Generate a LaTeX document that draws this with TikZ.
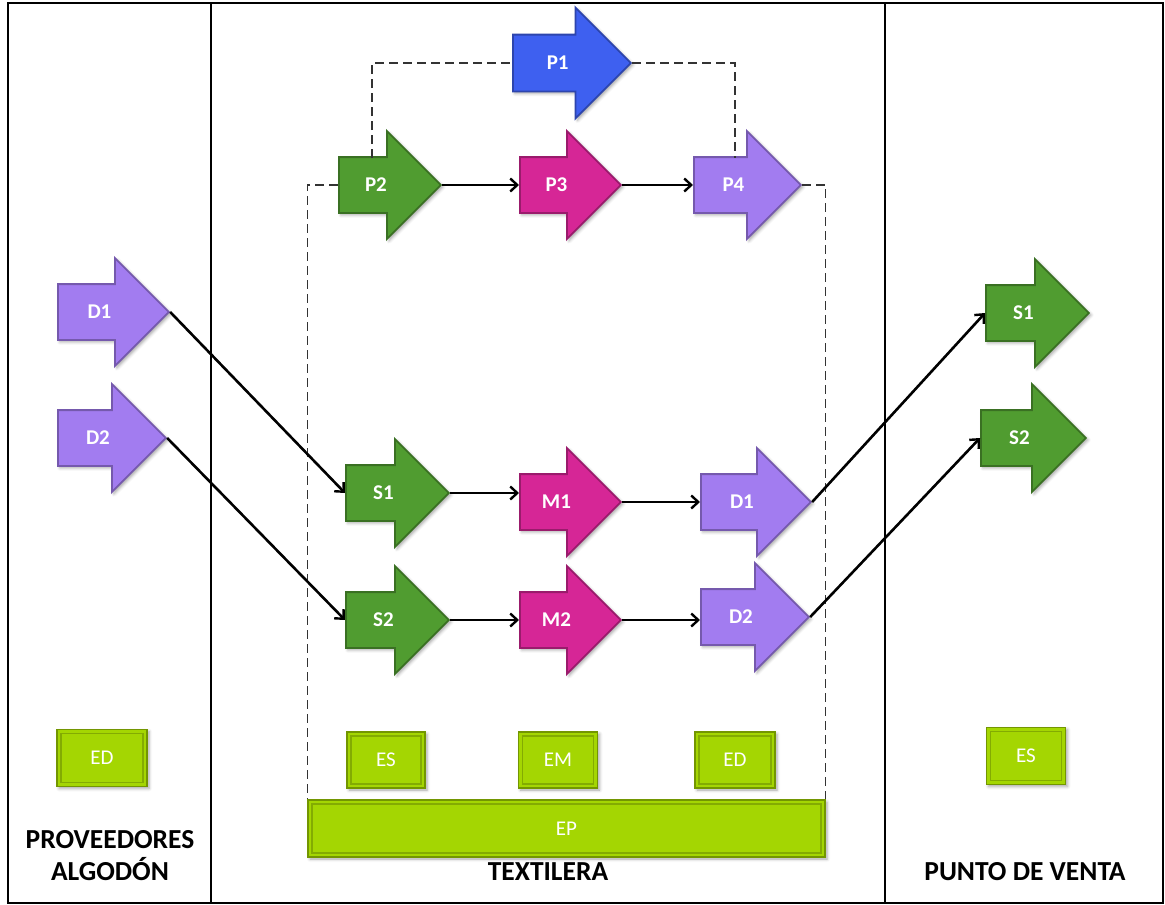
\documentclass[tikz,border=0pt]{standalone}
\usepackage{fontspec}
\setmainfont{Carlito}
\usetikzlibrary{shapes.arrows,arrows.meta,shadows.blur}

\definecolor{grn}{RGB}{80,156,48}
\definecolor{mag}{RGB}{214,38,150}
\definecolor{pur}{RGB}{162,124,240}
\definecolor{blu}{RGB}{62,96,240}
\definecolor{lim}{RGB}{164,214,2}

\tikzset{
  shade/.style={blur shadow={shadow xshift=2pt,shadow yshift=-2pt,shadow blur radius=3pt,shadow opacity=35}},
  blk/.style={single arrow, shape border rotate=0, anchor=tail,
    single arrow head extend=26pt, inner xsep=0pt, inner ysep=20.5pt,
    text height=13pt, text depth=0pt,
    fill=#1, draw=#1!72!black, line width=1.8pt, shade,
    text=white, font=\bfseries\fontsize{21}{21}\selectfont},
  ebox/.style={rectangle, fill=lim, draw=lim!70!black, line width=1.4pt, shade,
    text=white, font=\fontsize{21}{21}\selectfont,
    path picture={\draw[lim!80!black, line width=1.4pt]
      ([shift={(4pt,4pt)}]path picture bounding box.south west) rectangle
      ([shift={(-4pt,-4pt)}]path picture bounding box.north east);}},
  ttl/.style={font=\bfseries\fontsize{27.5}{32}\selectfont, align=center, text=black},
  con/.style={line width=2.6pt, -{Straight Barb[length=7pt,width=13pt,line width=2.4pt]}},
  dsh/.style={line width=1.4pt, black!80, dash pattern=on 9pt off 5pt},
}

\begin{document}
\begin{tikzpicture}[x=1pt,y=-1pt]
\useasboundingbox (0,0) rectangle (1165,905);

% frame and column dividers
\draw[line width=1.6pt] (8,3) rectangle (1163,903);
\draw[line width=1.4pt] (211,3) -- (211,903);
\draw[line width=1.4pt] (885,3) -- (885,903);

% stock boxes
\node[ebox, minimum width=90pt, minimum height=57pt] (EDa) at (102,758) {ED};
\node[ebox, minimum width=78pt, minimum height=56pt] (ES) at (386,760) {ES};
\node[ebox, minimum width=79pt, minimum height=56pt] (EM) at (558,760) {EM};
\node[ebox, minimum width=80pt, minimum height=56pt] (EDb) at (735,760) {ED};
\node[ebox, minimum width=79pt, minimum height=57pt] (ESb) at (1026,756) {ES};
\node[ebox, minimum width=517pt, minimum height=57pt] (EP) at (566.5,828.5) {EP};

% process arrows
\node[blk=blu, minimum height=118pt, inner ysep=21pt, single arrow head extend=27pt] (P1) at (512,63) {P1};
\node[blk=grn, minimum height=102pt] (P2) at (338,185) {P2};
\node[blk=mag, minimum height=101pt] (P3) at (519,185) {P3};
\node[blk=pur, minimum height=107pt] (P4) at (693,185) {P4};

% dashed links
\draw[dsh] ([xshift=34pt,yshift=27pt]P2.tail) |- (P1.tail);
\draw[dsh] (P1.tip) -| ([xshift=42pt,yshift=27pt]P4.tail);
\draw[dsh] (P2.tail) -| (EP.north west);
\draw[dsh] (P4.tip) -| (EP.north east);

% suppliers
\node[blk=pur, minimum height=111pt] (D1a) at (57,312) {D1};
\node[blk=pur, minimum height=108pt] (D2a) at (57,438) {D2};

% textile plant
\node[blk=grn, minimum height=103pt] (S1) at (345,493) {S1};
\node[blk=mag, minimum height=101pt] (M1) at (519,502) {M1};
\node[blk=pur, minimum height=110pt] (D1) at (700,502) {D1};
\node[blk=grn, minimum height=103pt] (S2) at (345,620) {S2};
\node[blk=mag, minimum height=101pt] (M2) at (519,620) {M2};
\node[blk=pur, minimum height=108pt] (D2) at (700,617) {D2};

% point of sale
\node[blk=grn, minimum height=103pt] (S1b) at (985,313) {S1};
\node[blk=grn, minimum height=105pt] (S2b) at (980,438) {S2};

% flows
\draw[con] (P2.tip) -- (P3.tail);
\draw[con] (P3.tip) -- (P4.tail);
\draw[con] (D1a.tip) -- (S1.tail);
\draw[con] (D2a.tip) -- (S2.tail);
\draw[con] (S1.tip) -- (S1.tip -| M1.tail);
\draw[con] (M1.tip) -- (D1.tail);
\draw[con] (S2.tip) -- (M2.tail);
\draw[con] (M2.tip) -- (M2.tip -| D2.tail);
\draw[con] (D1.tip) -- (S1b.tail);
\draw[con] (D2.tip) -- (S2b.tail);

% column titles
\node[ttl] (tA) at (110,856) {PROVEEDORES\\ALGODÓN};
\node[ttl] (tB) at (548,872) {TEXTILERA};
\node[ttl] (tC) at (1025,872) {PUNTO DE VENTA};
\end{tikzpicture}
\end{document}
